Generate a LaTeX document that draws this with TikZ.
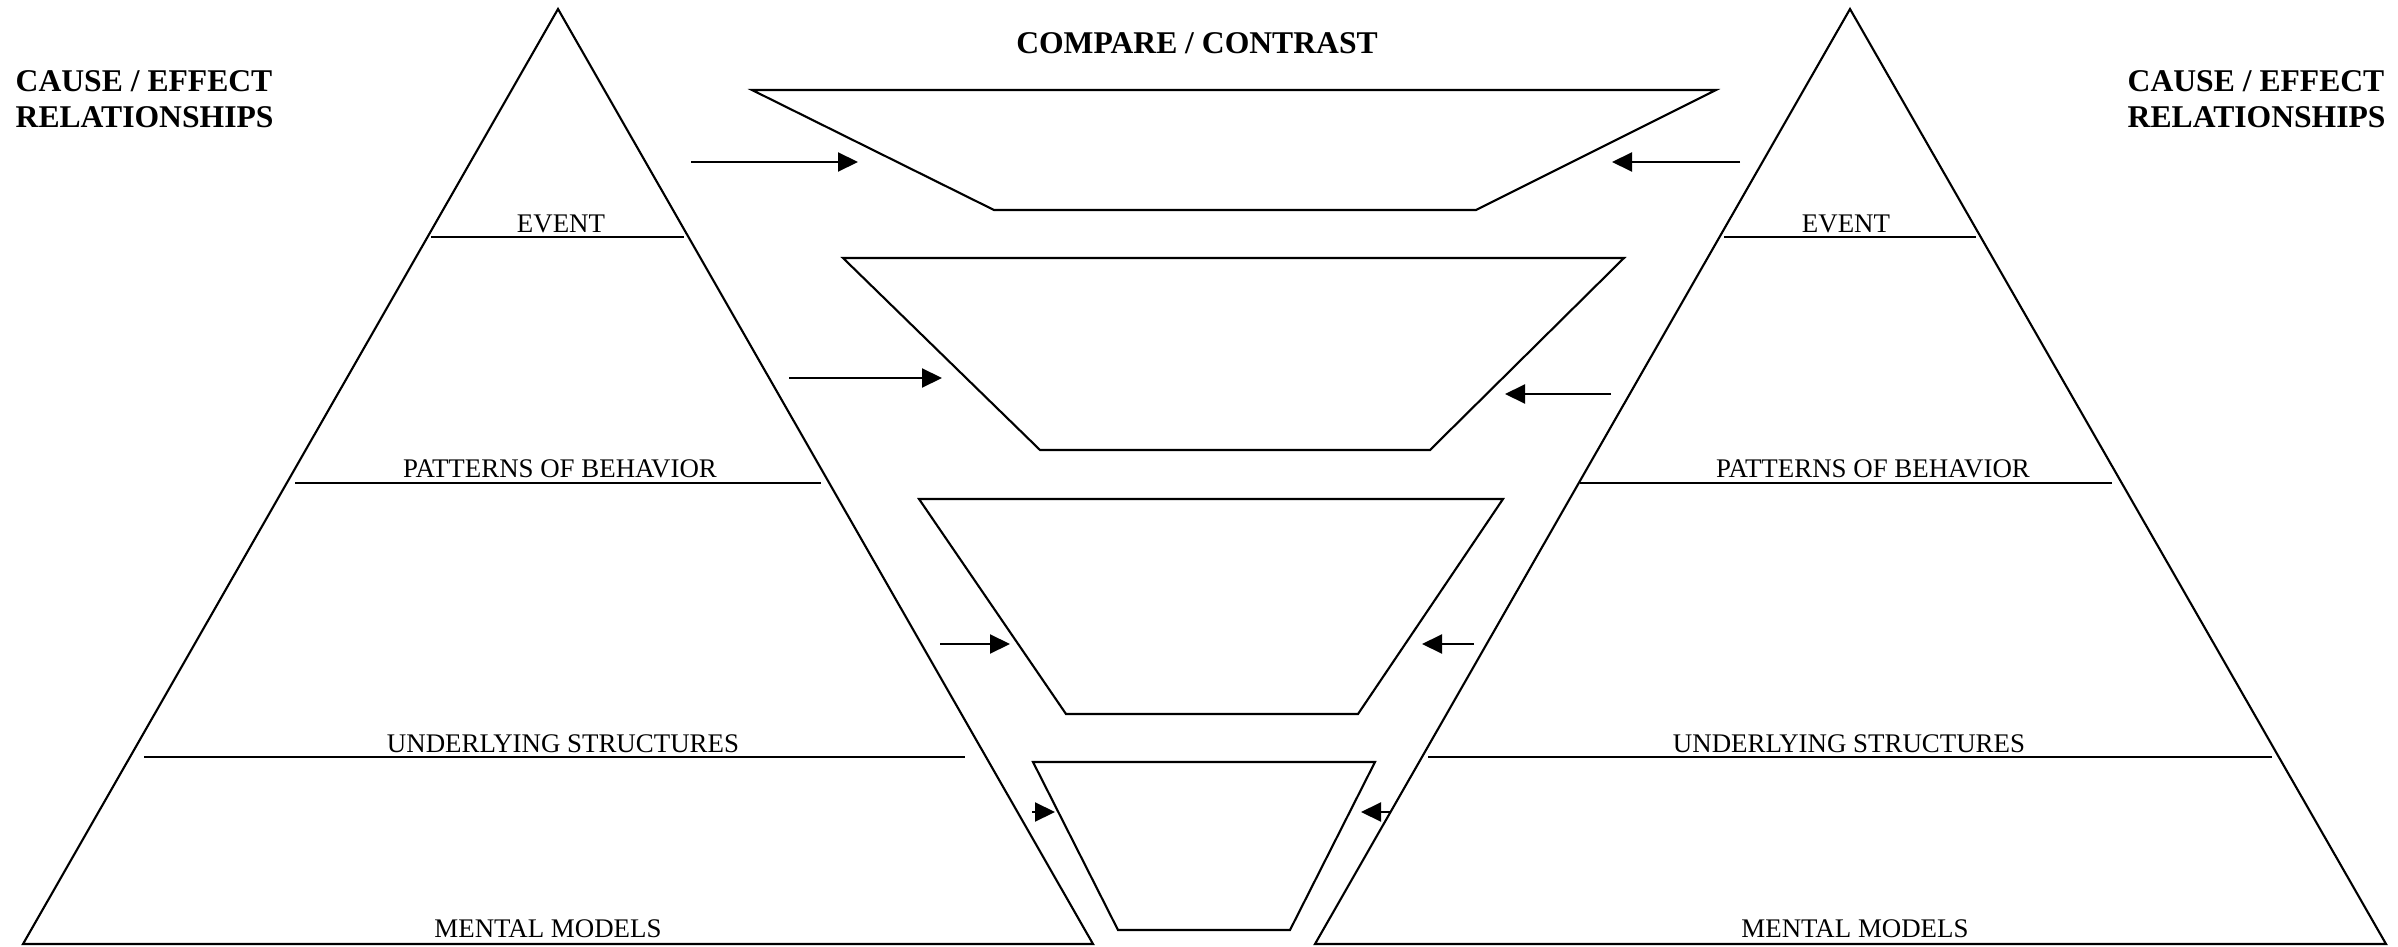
\documentclass[tikz,border=0pt]{standalone}
\usepackage{fontspec}
\setmainfont{Liberation Serif}
\usepackage{tikz}
\usetikzlibrary{arrows.meta,positioning}
\tikzset{
  outline/.style={line width=0.6pt,line join=miter},
  levelline/.style={line width=0.8pt},
  arr/.style={-{Triangle[length=2.0mm,width=1.9mm]},line width=0.6pt},
  levellabel/.style={font=\fontsize{7.65}{9}\selectfont,anchor=base,inner sep=0pt},
  bigtitle/.style={font=\bfseries\fontsize{9}{10.3}\selectfont,inner sep=0pt}
}

\begin{document}
\begin{tikzpicture}
\useasboundingbox (0,0) rectangle (23.98,9.46);

% left pyramid
\begin{scope}
  \draw[outline] (5.58,9.37) -- (0.23,0.02) -- (10.93,0.02) -- cycle;
  \draw[levelline] (4.31,7.09) -- (6.84,7.09);
  \draw[levelline] (2.95,4.63) -- (8.21,4.63);
  \draw[levelline] (1.44,1.89) -- (9.65,1.89);

  \node[levellabel] (evL)  at (5.61,7.14) {EVENT};
  \node[levellabel] (patL) at (5.60,4.69) {PATTERNS OF BEHAVIOR};
  \node[levellabel] (undL) at (5.63,1.94) {UNDERLYING STRUCTURES};
  \node[levellabel] (menL) at (5.48,0.09) {MENTAL MODELS};

  \node[bigtitle,align=left,anchor=north west] (titleL) at (0.15,8.76)
    {CAUSE / EFFECT\\RELATIONSHIPS};
\end{scope}

% right pyramid
\begin{scope}
  \draw[outline] (18.50,9.37) -- (13.15,0.02) -- (23.86,0.02) -- cycle;
  \draw[levelline] (17.24,7.09) -- (19.76,7.09);
  \draw[levelline] (15.80,4.63) -- (21.12,4.63);
  \draw[levelline] (14.28,1.89) -- (22.72,1.89);

  \node[levellabel] (evR)  at (18.46,7.14) {EVENT};
  \node[levellabel] (patR) at (18.73,4.69) {PATTERNS OF BEHAVIOR};
  \node[levellabel] (undR) at (18.49,1.94) {UNDERLYING STRUCTURES};
  \node[levellabel] (menR) at (18.55,0.09) {MENTAL MODELS};

  \node[bigtitle,align=left,anchor=north west] (titleR) at (21.27,8.76)
    {CAUSE / EFFECT\\RELATIONSHIPS};
\end{scope}

% funnel in the middle
\node[bigtitle,anchor=base] (compare) at (11.97,8.92) {COMPARE / CONTRAST};

\draw[outline] (7.52,8.56) -- (17.16,8.56) -- (14.76,7.36) -- (9.94,7.36) -- cycle;
\draw[outline] (8.43,6.88) -- (16.24,6.88) -- (14.30,4.96) -- (10.40,4.96) -- cycle;
\draw[outline] (9.19,4.47) -- (15.03,4.47) -- (13.58,2.32) -- (10.66,2.32) -- cycle;
\draw[outline] (10.33,1.84) -- (13.75,1.84) -- (12.90,0.16) -- (11.18,0.16) -- cycle;

% arrows into the funnel
\coordinate (a1Ls) at (6.91,7.84);  \coordinate (a1Le) at (8.58,7.84);
\coordinate (a1Rs) at (17.40,7.84); \coordinate (a1Re) at (16.12,7.84);
\coordinate (a2Ls) at (7.89,5.68);  \coordinate (a2Le) at (9.42,5.68);
\coordinate (a2Rs) at (16.11,5.52); \coordinate (a2Re) at (15.05,5.52);
\coordinate (a3Ls) at (9.40,3.02);  \coordinate (a3Le) at (10.10,3.02);
\coordinate (a3Rs) at (14.74,3.02); \coordinate (a3Re) at (14.22,3.02);
\coordinate (a4Ls) at (10.32,1.34); \coordinate (a4Le) at (10.55,1.34);
\coordinate (a4Rs) at (13.91,1.34); \coordinate (a4Re) at (13.61,1.34);

\draw[arr] (a1Ls) -- (a1Le);
\draw[arr] (a1Rs) -- (a1Re);
\draw[arr] (a2Ls) -- (a2Le);
\draw[arr] (a2Rs) -- (a2Re);
\draw[arr] (a3Ls) -- (a3Le);
\draw[arr] (a3Rs) -- (a3Re);
\draw[arr] (a4Ls) -- (a4Le);
\draw[arr] (a4Rs) -- (a4Re);

\end{tikzpicture}
\end{document}
